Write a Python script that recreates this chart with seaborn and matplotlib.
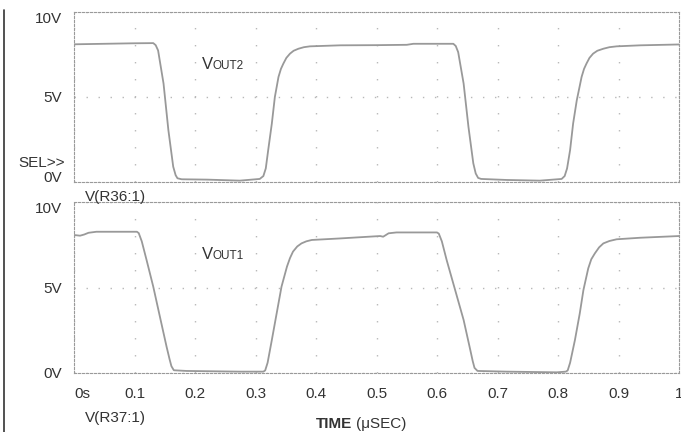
import numpy as np
import pandas as pd
import seaborn as sns
import matplotlib.pyplot as plt
from matplotlib.lines import Line2D

# waveform samples (time in usec, volts)
t_out2 = [0.0, 0.05, 0.10, 0.131, 0.135, 0.139, 0.148, 0.156, 0.164, 0.168, 0.171, 0.178,
          0.22, 0.274, 0.307, 0.313, 0.317, 0.321, 0.327, 0.332, 0.338, 0.342, 0.346,
          0.351, 0.357, 0.363, 0.371, 0.380, 0.390, 0.44, 0.50, 0.55, 0.561, 0.627,
          0.631, 0.635, 0.644, 0.652, 0.660, 0.664, 0.668, 0.673, 0.715, 0.770,
          0.806, 0.811, 0.815, 0.820, 0.825, 0.831, 0.839, 0.843, 0.847, 0.852,
          0.858, 0.865, 0.875, 0.885, 0.897, 0.936, 1.0]
v_out2 = [8.10, 8.13, 8.16, 8.17, 8.05, 7.74, 5.79, 3.05, 0.90, 0.40, 0.22, 0.16,
          0.14, 0.08, 0.18, 0.35, 0.80, 1.88, 3.44, 5.00, 6.18, 6.65, 6.96,
          7.30, 7.55, 7.72, 7.84, 7.93, 7.98, 8.04, 8.05, 8.07, 8.13, 8.13,
          8.00, 7.64, 5.79, 3.24, 1.10, 0.50, 0.24, 0.18, 0.12, 0.08,
          0.18, 0.35, 0.80, 1.88, 3.44, 4.80, 6.18, 6.65, 6.96, 7.30,
          7.55, 7.72, 7.84, 7.93, 7.98, 8.04, 8.09]

t_out1 = [0.0, 0.010, 0.017, 0.024, 0.037, 0.104, 0.107, 0.112, 0.120, 0.131, 0.142, 0.153,
          0.158, 0.161, 0.165, 0.186, 0.274, 0.313, 0.316, 0.320, 0.327, 0.335, 0.343,
          0.352, 0.357, 0.362, 0.369, 0.376, 0.384, 0.393, 0.44, 0.506, 0.511, 0.516,
          0.520, 0.533, 0.600, 0.603, 0.608, 0.616, 0.630, 0.644, 0.655, 0.659, 0.662,
          0.667, 0.715, 0.798, 0.813, 0.816, 0.820, 0.828, 0.836, 0.842, 0.850, 0.855,
          0.861, 0.868, 0.875, 0.885, 0.897, 0.936, 1.0]
v_out1 = [8.07, 8.03, 8.10, 8.20, 8.26, 8.26, 8.18, 7.70, 6.60, 5.05, 3.29, 1.54,
          0.80, 0.40, 0.16, 0.12, 0.08, 0.08, 0.15, 0.60, 1.93, 3.49, 5.05,
          6.22, 6.72, 7.10, 7.40, 7.58, 7.70, 7.78, 7.87, 8.01, 7.97, 8.08,
          8.17, 8.22, 8.22, 8.15, 7.70, 6.60, 4.85, 3.10, 1.35, 0.70, 0.30,
          0.12, 0.08, 0.04, 0.08, 0.15, 0.60, 1.93, 3.49, 4.85, 6.12, 6.65,
          7.00, 7.35, 7.58, 7.72, 7.82, 7.91, 8.01]

x_ticks = [0, 0.1, 0.2, 0.3, 0.4, 0.5, 0.6, 0.7, 0.8, 0.9, 1.0]
x_labels = ["0s", "0.1", "0.2", "0.3", "0.4", "0.5", "0.6", "0.7", "0.8", "0.9", "1"]
y_ticks = [0, 5, 10]
y_labels = ["0V", "5V", "10V"]

sns.set_style("white")
plt.rcParams['font.family'] = ['Liberation Sans', 'DejaVu Sans']

W, H = 681, 432
fig = plt.figure(figsize=(W / 100, H / 100), dpi=100)


def rect(left, top, right, bottom):
    return [left / W, 1 - bottom / H, (right - left) / W, (bottom - top) / H]


ax_top = fig.add_axes(rect(74, 12, 679, 182))
ax_bot = fig.add_axes(rect(74, 202, 679, 373))

wave_color = "#999999"
grid_color = "#b8b8b8"
frame_color = "#9a9a9a"


def style_panel(ax):
    ax.set_xlim(0, 1)
    ax.set_ylim(0, 10)
    ax.set_xticks(x_ticks)
    ax.set_yticks(y_ticks)
    ax.set_yticklabels(y_labels, fontsize=11, color="#333333")
    ax.xaxis.grid(True, linestyle=(0, (1, 11.25)), color=grid_color, lw=1)
    ax.yaxis.grid(True, linestyle=(0, (1, 7.65)), color=grid_color, lw=1)
    for s in ax.spines.values():
        s.set_visible(True)
        s.set_linestyle((0, (2, 1.6)))
        s.set_linewidth(0.8)
        s.set_color(frame_color)
    ax.tick_params(axis="y", length=2, width=0.8, color=frame_color, pad=7)
    ax.set_xlabel("")
    ax.set_ylabel("")
    ax.get_yticklabels()[2].set_va("top")


df2 = pd.DataFrame({"t": t_out2, "v": v_out2})
df1 = pd.DataFrame({"t": t_out1, "v": v_out1})
sns.lineplot(data=df2, x="t", y="v", ax=ax_top, color=wave_color, lw=1.3,
             sort=False, estimator=None)
sns.lineplot(data=df1, x="t", y="v", ax=ax_bot, color=wave_color, lw=1.3,
             sort=False, estimator=None)

style_panel(ax_top)
style_panel(ax_bot)
# top panel's 0V label sits on the axis line, under SEL>>
ax_top.get_yticklabels()[0].set_va("baseline")
ax_top.tick_params(axis="x", length=0, labelbottom=False)
ax_bot.tick_params(axis="x", length=2, width=0.8, color=frame_color, pad=8)
ax_bot.set_xticklabels(x_labels, fontsize=11, color="#333333")
ax_bot.get_xticklabels()[0].set_ha("left")

# V_OUT labels
for ax, sub in [(ax_top, "OUT2"), (ax_bot, "OUT1")]:
    tv = ax.text(0.211, 6.67, "V", fontsize=12, color="#333333", va="baseline")
    ax.annotate(sub, xy=(1, 0), xycoords=tv, va="bottom", ha="left",
                fontsize=8.5, color="#333333")


def ftext(x, y, s, **kw):
    fig.text(x / W, 1 - y / H, s, color="#333333", va="baseline", **kw)


ftext(65, 167, "SEL>>", fontsize=11, ha="right")
ftext(85, 201, "V(R36:1)", fontsize=11, ha="left")
ftext(85, 422, "V(R37:1)", fontsize=11, ha="left")
ftext(352, 428, "TIME", fontsize=11, ha="right", weight="bold",
      family=["Liberation Sans Narrow", "Liberation Sans"])
ftext(356, 428, "(\u03bcSEC)", fontsize=11, ha="left")

fig.add_artist(Line2D([4 / W, 4 / W], [0, 1 - 10 / H], transform=fig.transFigure,
                      color="#333333", lw=1.2))

fig.savefig("out.png", dpi=100)
